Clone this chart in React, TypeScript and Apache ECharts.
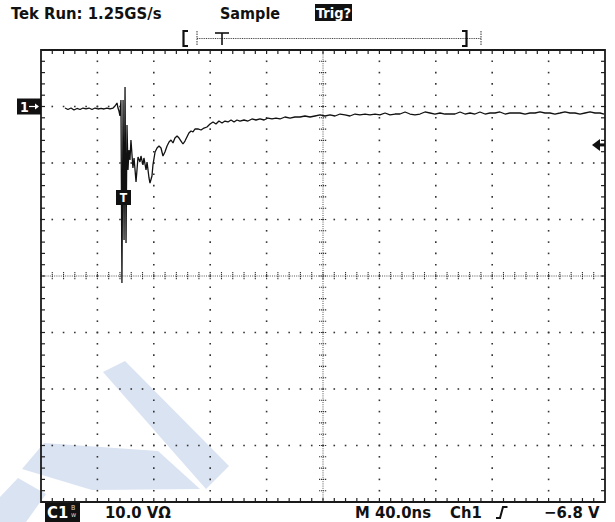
import React, { useEffect, useRef } from 'react';
import * as echarts from 'echarts';

// Time (ns) of each sample (40 ns/div, 10 div)
const timeNs = [
  17.0, 19.1, 21.3, 23.4, 25.5, 27.7, 29.8, 31.9, 34.0, 36.2, 38.3, 40.4, 42.6, 44.7, 46.8, 48.9, 51.1, 52.5, 53.9, 54.6,
  55.3, 56.0, 56.7, 57.4, 58.2, 58.9, 59.6, 60.3, 61.0, 61.7, 62.4, 63.1, 63.8, 65.2, 66.0, 67.4, 68.8, 70.2,
  70.9, 72.3, 73.0, 74.5, 75.2, 76.6, 77.3, 78.7, 79.4, 80.9, 82.3, 83.7, 85.1,
  86.5, 87.9, 89.4, 90.8, 92.2, 93.6, 95.0, 96.5, 97.9, 99.3, 100.7, 102.1, 103.5, 104.9, 106.4, 107.8, 109.2, 111.3, 113.5, 115.6,
  117.7, 119.9, 122.0, 124.1, 126.2, 128.4, 130.5, 132.6, 134.8, 136.9, 139.0, 141.1, 144.0, 146.8, 149.6, 152.5, 155.3, 158.2, 161.0, 163.8,
  166.7, 169.5, 173.0, 176.6, 180.1, 183.7, 187.2, 190.8, 194.3, 197.9, 201.4, 205.0, 208.5, 212.1, 215.6, 219.1, 222.7, 226.2, 229.8, 233.3,
  236.9, 240.4, 244.0, 247.5, 251.1, 254.6, 258.2, 261.7, 265.2, 268.8, 272.3, 275.9, 279.4, 283.0, 286.5, 290.1, 293.6, 297.2, 300.7, 304.3,
  307.8, 311.3, 314.9, 318.4, 322.0, 325.5, 329.1, 332.6, 336.2, 339.7, 343.3, 346.8, 350.4, 353.9, 357.4, 361.0, 364.5, 368.1, 371.6, 375.2,
  378.7, 382.3, 385.8, 389.4, 392.9, 396.5, 399.3,
];

// Voltage (V) of each sample relative to the channel 1 ground marker (10 V/div)
const voltV = [
  -0.27, -0.53, -0.27, -0.62, -0.35, -0.53, -0.27, -0.44, -0.27, -0.53, -0.27, -0.44, -0.35, -0.44, -0.27, -0.44, -0.27, 0.09, 0.62, -0.27,
  -0.8, -1.68, 1.15, -31.24, 1.15, -23.63, 3.45, -24.16, -3.27, -11.24, -7.7, -9.47, -5.93, -10.88, -9.11, -13.36, -8.94, -9.82,
  -8.76, -10.35, -9.11, -11.24, -9.82, -12.65, -13.54, -12.3, -10.35, -8.05, -7.35, -6.99, -7.35,
  -8.76, -8.05, -6.99, -6.28, -5.93, -6.46, -5.58, -5.22, -5.58, -6.11, -6.64, -6.11, -5.4, -4.69, -4.34, -4.51, -3.98, -3.98, -4.16, -3.81,
  -3.63, -3.1, -2.74, -3.1, -2.57, -2.92, -2.57, -2.74, -2.39, -2.74, -2.39, -2.57, -2.39, -2.57, -2.21, -2.39, -2.21, -2.39, -2.04, -2.21,
  -2.04, -2.21, -1.86, -2.04, -1.86, -1.86, -1.68, -1.86, -1.68, -1.5, -1.68, -1.5, -1.68, -1.33, -1.5, -1.68, -1.33, -1.5, -1.33, -1.5,
  -1.33, -1.5, -1.15, -1.5, -1.33, -1.33, -0.97, -1.33, -1.5, -1.33, -0.97, -1.15, -1.33, -1.15, -1.33, -1.33, -1.33, -0.97, -1.33, -1.15,
  -1.33, -0.97, -1.33, -1.15, -1.15, -0.97, -1.33, -1.15, -1.15, -1.15, -1.33, -1.15, -1.15, -0.97, -1.15, -1.15, -1.33, -1.15, -0.97, -1.15,
  -1.15, -1.33, -1.15, -0.97, -1.15, -1.15, -1.33,
];

// Screen scale
const X_MIN = 0;
const X_MAX = 400;
const X_DIV = 40; // 40 ns/div
const Y_MIN = -70;
const Y_MAX = 10;
const Y_DIV = 10; // 10 V/div
const TRIG_LEVEL = -6.8;

const headerTexts = ['Tek Run: 1.25GS/s', 'Sample', 'Trig?'];
const footerTexts = ['C1', '10.0 VΩ', 'M 40.0ns', 'Ch1', '−6.8 V'];

const FONT = '"DejaVu Sans Condensed", "DejaVu Sans", sans-serif';
const INK = '#111';
const DOT = '#333';

export default function App() {
  const ref = useRef<HTMLDivElement>(null);

  useEffect(() => {
    const chart = echarts.init(ref.current!, null, { renderer: 'svg' });

    const graticule = (_params: any, api: any) => {
      const children: any[] = [];
      const p = (t: number, v: number) => api.coord([t, v]);
      const [xl, yt] = p(X_MIN, Y_MAX);
      const [xr, yb] = p(X_MAX, Y_MIN);
      const xc = p((X_MIN + X_MAX) / 2, 0)[0];
      const yc = p(0, (Y_MIN + Y_MAX) / 2)[1];
      const xMinor = X_DIV / 5;
      const yMinor = Y_DIV / 5;
      const dot = (x: number, y: number) => ({
        type: 'rect',
        shape: { x: x - 0.8, y: y - 0.8, width: 1.6, height: 1.6 },
        style: { fill: DOT },
      });
      const seg = (x1: number, y1: number, x2: number, y2: number, w = 1, c = INK, dash?: number[]) => ({
        type: 'line',
        shape: { x1, y1, x2, y2 },
        style: { stroke: c, lineWidth: w, lineDash: dash },
      });
      // dotted graticule lines
      for (let t = X_MIN + X_DIV; t < X_MAX; t += X_DIV) {
        if (Math.abs(t - (X_MIN + X_MAX) / 2) < 1e-6) continue;
        for (let v = Y_MIN; v <= Y_MAX + 1e-6; v += yMinor) {
          const [x, y] = p(t, v);
          children.push(dot(x, y));
        }
      }
      for (let v = Y_MIN + Y_DIV; v < Y_MAX; v += Y_DIV) {
        if (Math.abs(v - (Y_MIN + Y_MAX) / 2) < 1e-6) continue;
        for (let t = X_MIN; t <= X_MAX + 1e-6; t += xMinor) {
          const [x, y] = p(t, v);
          children.push(dot(x, y));
        }
      }
      // center axes: fine dotted line with ticks on both sides
      children.push(seg(xl, yc, xr, yc, 1, '#555', [1, 1.2]));
      children.push(seg(xc, yt, xc, yb, 1, '#555', [1, 1.2]));
      for (let t = X_MIN; t <= X_MAX + 1e-6; t += xMinor) {
        const x = p(t, 0)[0];
        children.push(seg(x, yc - 4, x, yc + 4, 1.1, '#333', [1.2, 0.8]));
      }
      for (let v = Y_MIN; v <= Y_MAX + 1e-6; v += yMinor) {
        const y = p(0, v)[1];
        children.push(seg(xc - 4, y, xc + 4, y, 1.1, '#333', [1.2, 0.8]));
      }
      // border ticks (inside)
      for (let t = X_MIN + xMinor; t < X_MAX; t += xMinor) {
        const x = p(t, 0)[0];
        children.push(seg(x, yt, x, yt + 4, 1.2, '#222'));
        children.push(seg(x, yb, x, yb - 4, 1.2, '#222'));
      }
      for (let v = Y_MIN + yMinor; v < Y_MAX; v += yMinor) {
        const y = p(0, v)[1];
        children.push(seg(xl, y, xl + 4, y, 1.2, '#222'));
        children.push(seg(xr, y, xr - 4, y, 1.2, '#222'));
      }
      // border
      children.push({
        type: 'rect',
        shape: { x: xl, y: yt, width: xr - xl, height: yb - yt },
        style: { fill: 'none', stroke: '#1a1a1a', lineWidth: 1.8 },
      });
      return { type: 'group', children };
    };

    const watermark = [
      [[103, 372], [125, 361], [229, 466], [206, 489]],
      [[22, 469], [44, 443], [158, 451], [200, 489], [92, 490]],
      [[0, 497], [18, 478], [46, 494], [26, 522], [0, 522]],
    ].map((pts) => ({
      type: 'polygon',
      z: -10,
      shape: { points: pts },
      style: { fill: '#dae3f2' },
    }));

    const txt = (text: string, x: number, y: number, size: number, fill = INK, weight = 'bold', align = 'left') => ({
      type: 'text',
      x,
      y,
      z: 10,
      style: { text, fill, font: `${weight} ${size}px ${FONT}`, align, verticalAlign: 'middle' },
    });

    chart.setOption({
      animation: false,
      grid: { left: 41, top: 50, width: 564, height: 452, show: false },
      xAxis: { type: 'value', min: X_MIN, max: X_MAX, interval: X_DIV, show: false },
      yAxis: { type: 'value', min: Y_MIN, max: Y_MAX, interval: Y_DIV, show: false },
      series: [
        {
          type: 'custom',
          z: 2,
          silent: true,
          renderItem: graticule,
          data: [[0, 0]],
        },
        {
          type: 'line',
          z: 5,
          data: timeNs.map((t, i) => [t, voltV[i]]),
          showSymbol: false,
          lineStyle: { color: '#111', width: 1.3 },
        },
      ],
    });

    const gndY = chart.convertToPixel({ gridIndex: 0 }, [0, 0])[1];
    const trigY = chart.convertToPixel({ gridIndex: 0 }, [0, TRIG_LEVEL])[1];

    chart.setOption({
      graphic: [
        ...watermark,
        // header
        txt(headerTexts[0], 11, 13, 16.5),
        txt(headerTexts[1], 220, 13, 16),
        { type: 'rect', z: 10, shape: { x: 315, y: 4, width: 37, height: 17 }, style: { fill: '#111' } },
        txt(headerTexts[2], 333.5, 13, 14.5, '#fff', 'bold', 'center'),
        // record view bar
        { type: 'polyline', z: 10, shape: { points: [[188, 31], [183.5, 31], [183.5, 46], [188, 46]] }, style: { stroke: INK, lineWidth: 2.2, fill: 'none' } },
        { type: 'line', z: 10, shape: { x1: 197, y1: 31, x2: 197, y2: 46 }, style: { stroke: '#333', lineWidth: 1, lineDash: [1.5, 1] } },
        { type: 'line', z: 10, shape: { x1: 197, y1: 38.5, x2: 481, y2: 38.5 }, style: { stroke: '#444', lineWidth: 1, lineDash: [1, 0.8] } },
        { type: 'line', z: 10, shape: { x1: 215, y1: 33, x2: 229, y2: 33 }, style: { stroke: INK, lineWidth: 1.6 } },
        { type: 'line', z: 10, shape: { x1: 222, y1: 33, x2: 222, y2: 45 }, style: { stroke: INK, lineWidth: 1.6 } },
        { type: 'polyline', z: 10, shape: { points: [[462, 31], [466.5, 31], [466.5, 46], [462, 46]] }, style: { stroke: INK, lineWidth: 2.2, fill: 'none' } },
        { type: 'line', z: 10, shape: { x1: 481, y1: 31, x2: 481, y2: 46 }, style: { stroke: '#333', lineWidth: 1, lineDash: [1.5, 1] } },
        // ground marker "1→"
        { type: 'rect', z: 10, shape: { x: 17, y: gndY - 8, width: 24, height: 16 }, style: { fill: '#111' } },
        txt('1', 20, gndY + 0.5, 14, '#fff'),
        { type: 'line', z: 11, shape: { x1: 29, y1: gndY, x2: 38, y2: gndY }, style: { stroke: '#fff', lineWidth: 1.2 } },
        { type: 'polygon', z: 11, shape: { points: [[39, gndY], [35, gndY - 3], [35, gndY + 3]] }, style: { fill: '#fff' } },
        // trigger level arrow
        { type: 'polygon', z: 10, shape: { points: [[592, trigY], [600, trigY - 6], [600, trigY + 6]] }, style: { fill: '#111' } },
        { type: 'rect', z: 10, shape: { x: 599, y: trigY - 1.5, width: 6, height: 3 }, style: { fill: '#111' } },
        // trigger point marker
        { type: 'rect', z: 10, shape: { x: 116, y: 190, width: 15, height: 15 }, style: { fill: '#111' } },
        txt('T', 123.5, 198, 12, '#fff', 'bold', 'center'),
        // footer
        { type: 'rect', z: 10, shape: { x: 45, y: 503, width: 35, height: 19 }, style: { fill: '#111' } },
        txt(footerTexts[0], 47, 512.5, 16.5, '#fff'),
        txt('B', 71, 507.5, 7, '#ddd', 'normal'),
        txt('w', 71, 515, 7, '#ddd', 'normal'),
        txt(footerTexts[1], 105, 512.5, 16.5),
        txt(footerTexts[2], 355, 512.5, 16.5),
        txt(footerTexts[3], 450, 512.5, 16.5),
        { type: 'polyline', z: 10, shape: { points: [[496, 518], [500, 518], [503, 507], [507.5, 507]] }, style: { stroke: INK, lineWidth: 2, fill: 'none' } },
        txt(footerTexts[4], 544, 512.5, 16.5),
      ],
    });

    return () => chart.dispose();
  }, []);

  return (
    <div
      ref={ref}
      style={{ position: 'fixed', left: 0, top: 0, width: 615, height: 522, background: '#fff' }}
    />
  );
}
